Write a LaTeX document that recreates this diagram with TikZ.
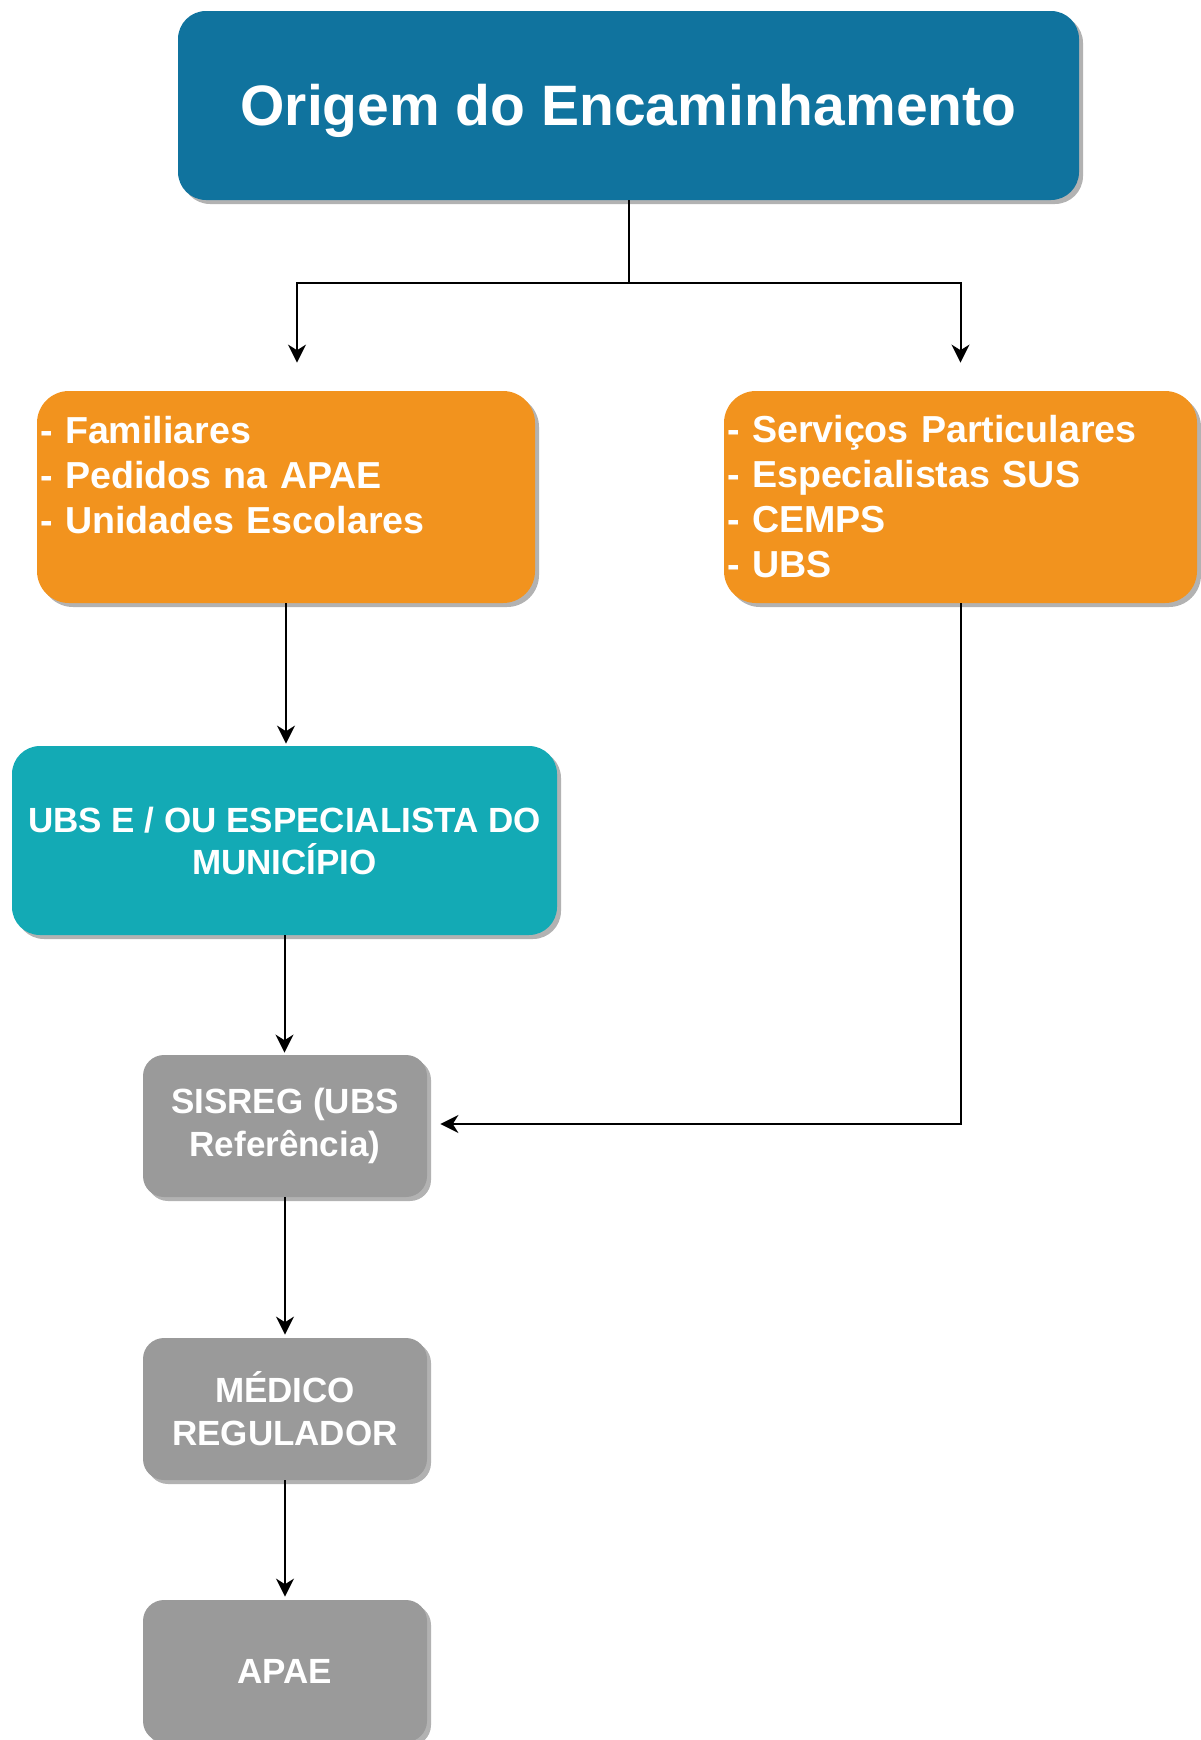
\documentclass[tikz,border=0pt]{standalone}
\usepackage{fontspec}
\setmainfont{Liberation Sans}
\usetikzlibrary{arrows.meta,shadows,calc}
\definecolor{cblue}{HTML}{10739E}
\definecolor{corange}{HTML}{F2931E}
\definecolor{cteal}{HTML}{13AAB5}
\definecolor{cgray}{HTML}{9A9A9A}
\begin{document}
\begin{tikzpicture}[x=0.5pt,y=-0.5pt,
  box/.style={draw=none, text=white, font=\bfseries, inner sep=0pt,
    drop shadow={shadow xshift=2pt, shadow yshift=-2pt, opacity=0.3, fill=black}},
  topbox/.style={box, fill=cblue, rounded corners=14pt, minimum width=450.5pt, minimum height=94.5pt,
    text height=20.4pt, text depth=0pt,
    font=\fontsize{28.5}{34}\selectfont\bfseries},
  listbox/.style={box, fill=corange, rounded corners=16pt, minimum height=106pt, align=left,
    inner xsep=1.5pt, font=\fontsize{18.8}{22.5}\selectfont\bfseries},
  tealbox/.style={box, fill=cteal, rounded corners=14pt, minimum width=272.5pt, minimum height=94.5pt,
    align=center, font=\fontsize{17.5}{21}\selectfont\bfseries},
  graybox/.style={box, fill=cgray, rounded corners=10.5pt, minimum width=142pt, minimum height=71pt,
    align=center, font=\fontsize{17.5}{21.5}\selectfont\bfseries},
  arr/.style={draw=black, line width=1pt, -{Stealth[length=9pt,width=9pt,inset=2.8pt]}}
]
\useasboundingbox (0,0) rectangle (1200,1740);

\node[topbox] (top) at (628.5,105.5) {Origem do Encaminhamento};
\node[listbox, minimum width=249pt, text width=246pt] (fam) at (286,497)
  {- Familiares\\- Pedidos na APAE\\- Unidades Escolares\\\mbox{}};
\node[listbox, minimum width=236.5pt, text width=233.5pt] (ser) at (960.5,497)
  {- Serviços Particulares\\- Especialistas SUS\\- CEMPS\\- UBS};
\node[tealbox] (ubs) at (284.5,840.5) {UBS E / OU ESPECIALISTA DO\\MUNICÍPIO};
\node[graybox] (sis) at (285,1126) {SISREG (UBS\\Referência)};
\node[graybox] (med) at (285,1409) {MÉDICO\\REGULADOR};
\node[graybox] (apae) at (285,1671) {APAE};

\coordinate (split) at (628.5,283);

\draw[arr, shorten >=14pt] (top.south) -- (split) -| ([xshift=5.5pt]fam.north);
\draw[arr, shorten >=14pt] (split) -| (ser.north);
\draw[arr, shorten >=1pt] (fam.south) -- (fam.south |- ubs.north);
\draw[arr, shorten >=1pt] (ubs.south) -- (ubs.south |- sis.north);
\draw[arr, shorten >=1.5pt] (sis.south) -- (med.north);
\draw[arr, shorten >=1.5pt] (med.south) -- (apae.north);
\draw[arr, shorten >=6.5pt] (ser.south) |- ([yshift=1pt]sis.east);
\end{tikzpicture}
\end{document}
